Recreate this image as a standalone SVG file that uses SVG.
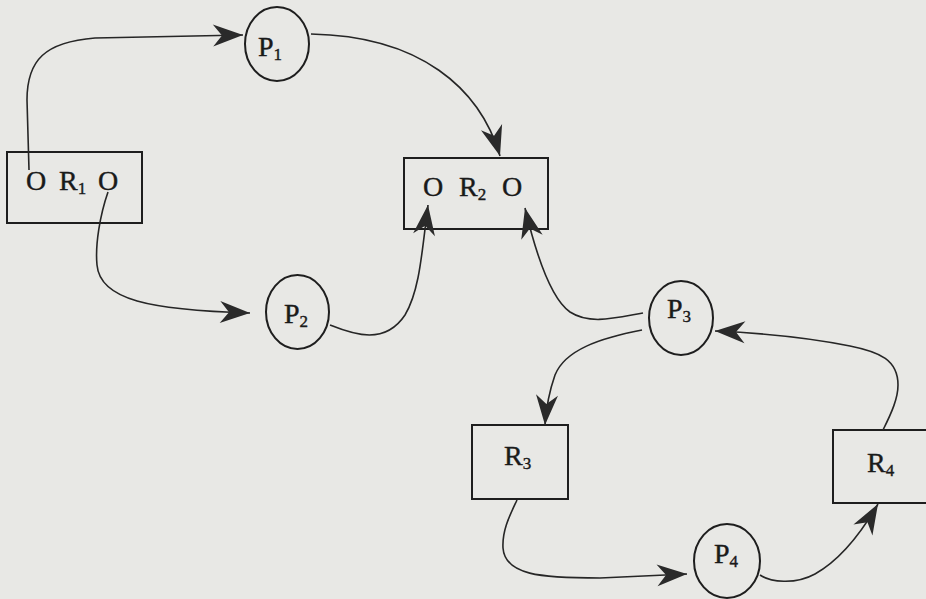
<svg xmlns="http://www.w3.org/2000/svg" width="926" height="599" viewBox="0 0 926 599">
<style>
.bg{fill:#e8e8e5}
.box{fill:#e8e8e5;stroke:#1e1e1e;stroke-width:2}
.proc{fill:#e8e8e5;stroke:#1e1e1e;stroke-width:2}
.lbl{font-family:"Liberation Serif","Times New Roman",serif;font-size:28px;fill:#1a1a1a;stroke:#1a1a1a;stroke-width:0.4}
.sub{font-size:17px}
.edge{fill:none;stroke:#262626;stroke-width:1.6}
</style>
<defs>
<marker id="arr" markerUnits="userSpaceOnUse" orient="auto" viewBox="-32 -13 34 26" markerWidth="34" markerHeight="26" refX="0" refY="0">
<path d="M0,0 L-30,-11 L-21,0 L-30,11 Z" fill="#2a2a2a"/>
</marker>
</defs>
<rect class="bg" x="0" y="0" width="926" height="599"/>
<g id="R1">
<rect class="box" x="7" y="152" width="135" height="71"/>
<text class="lbl" x="26" y="190">O</text>
<text class="lbl" x="59" y="190">R<tspan class="sub" dy="4">1</tspan></text>
<text class="lbl" x="98" y="190">O</text>
</g>
<g id="R2">
<rect class="box" x="404" y="158" width="144" height="71"/>
<text class="lbl" x="423" y="196">O</text>
<text class="lbl" x="459" y="196">R<tspan class="sub" dy="4">2</tspan></text>
<text class="lbl" x="502" y="196">O</text>
</g>
<g id="R3">
<rect class="box" x="472" y="425" width="96" height="74"/>
<text class="lbl" x="504" y="465">R<tspan class="sub" dy="4">3</tspan></text>
</g>
<g id="R4">
<rect class="box" x="833" y="430" width="110" height="73"/>
<text class="lbl" x="867" y="472">R<tspan class="sub" dy="4">4</tspan></text>
</g>
<g id="P1">
<ellipse class="proc" cx="277" cy="44" rx="32" ry="37"/>
<text class="lbl" x="258" y="56">P<tspan class="sub" dy="4">1</tspan></text>
</g>
<g id="P2">
<ellipse class="proc" cx="297.5" cy="312" rx="31.5" ry="37"/>
<text class="lbl" x="284" y="323">P<tspan class="sub" dy="4">2</tspan></text>
</g>
<g id="P3">
<ellipse class="proc" cx="681" cy="318" rx="32" ry="37"/>
<text class="lbl" x="667" y="318">P<tspan class="sub" dy="4">3</tspan></text>
</g>
<g id="P4">
<ellipse class="proc" cx="727" cy="561" rx="33" ry="37"/>
<text class="lbl" x="714" y="563">P<tspan class="sub" dy="4">4</tspan></text>
</g>
<g id="connectors">
<path class="edge" marker-end="url(#arr)" d="M29,170 L27,100 C27,60 45,42 95,38 L243,35"/>
<path class="edge" marker-end="url(#arr)" d="M311,34 C420,36 480,88 500,156"/>
<path class="edge" marker-end="url(#arr)" d="M108,192 C100,215 95,245 97,265 C100,300 150,310 250,313"/>
<path class="edge" marker-end="url(#arr)" d="M330,325 C355,335 385,345 405,315 C420,290 422,250 428,205"/>
<path class="edge" marker-end="url(#arr)" d="M643,313 C615,318 590,325 570,312 C550,298 535,250 525,208"/>
<path class="edge" marker-end="url(#arr)" d="M642,330 C600,338 565,350 555,375 C548,395 546,410 545,425"/>
<path class="edge" marker-end="url(#arr)" d="M517,500 C510,515 502,530 503,548 C505,575 540,578 600,578 L687,574"/>
<path class="edge" marker-end="url(#arr)" d="M760,575 C770,582 795,585 815,574 C840,560 860,535 878,504"/>
<path class="edge" marker-end="url(#arr)" d="M883,430 C892,412 898,398 898,385 C898,360 880,352 850,346 C810,338 760,333 715,331"/>
</g>
</svg>
